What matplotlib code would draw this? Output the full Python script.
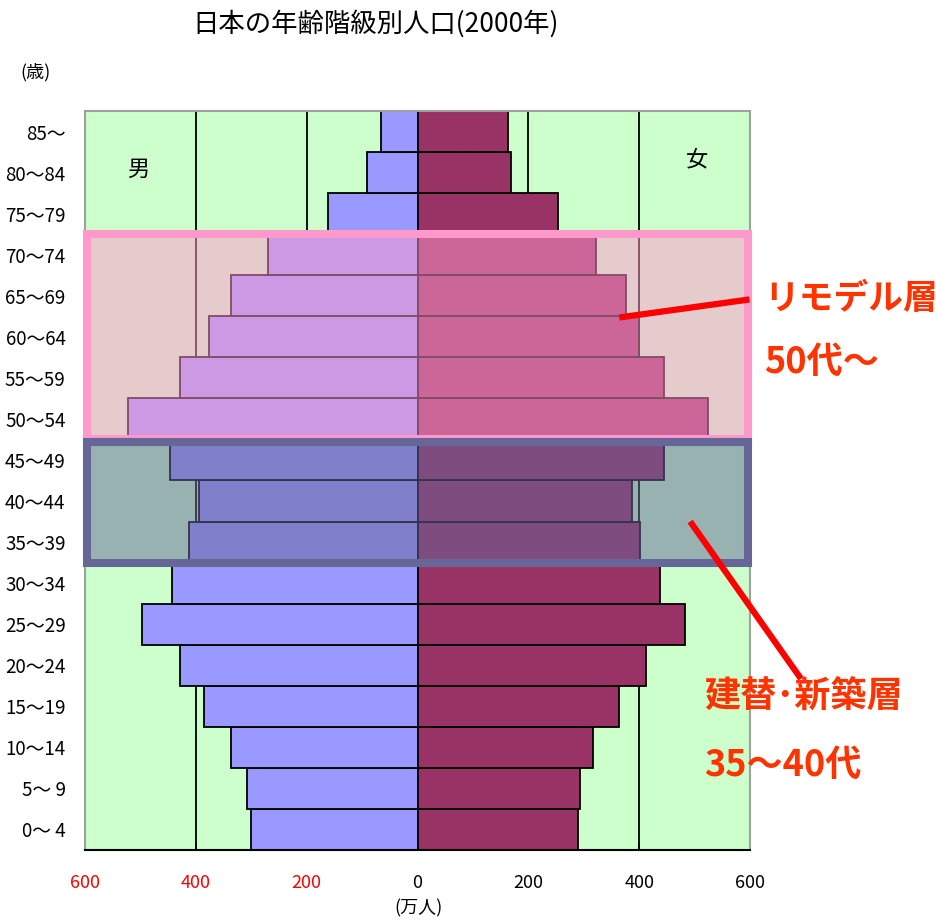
import numpy as np
import matplotlib
matplotlib.use('Agg')
import matplotlib.pyplot as plt
from matplotlib.patches import Rectangle

plt.rcParams['font.family'] = ['Noto Sans CJK JP', 'DejaVu Sans']

# 年齢階級 (下から上へ)
ages = ["0〜 4", "5〜 9", "10〜14", "15〜19", "20〜24", "25〜29", "30〜34",
        "35〜39", "40〜44", "45〜49", "50〜54", "55〜59", "60〜64", "65〜69",
        "70〜74", "75〜79", "80〜84", "85〜"]
# 人口 (万人)
male = [301, 307, 336, 385, 429, 498, 443, 412, 395, 446, 522, 429, 376, 336, 270, 162, 92, 65]
female = [289, 294, 317, 364, 413, 483, 437, 401, 387, 445, 524, 445, 399, 376, 323, 253, 169, 164]
xticks = [-600, -400, -200, 0, 200, 400, 600]
xtick_labels = ["600", "400", "200", "0", "200", "400", "600"]
xtick_colors = ["red", "red", "red", "black", "black", "black", "black"]

W, H = 936, 921
fig = plt.figure(figsize=(W / 100, H / 100), dpi=100)
ax = fig.add_axes([85 / W, 1 - 850 / H, 665 / W, 739 / H])
ax.set_facecolor('#CCFFCC')

y = np.arange(len(ages))
ax.barh(y, -np.array(male), height=1.0, color='#9999FF', edgecolor='black', linewidth=1.3, zorder=2)
ax.barh(y, female, height=1.0, color='#993366', edgecolor='black', linewidth=1.3, zorder=2)

for v in [-400, -200, 200, 400]:
    ax.axvline(v, color='black', lw=1.3, zorder=1)

ax.set_xlim(-600, 600)
ax.set_ylim(-0.5, len(ages) - 0.5)

ax.set_xticks(xticks)
ax.set_xticklabels(xtick_labels, fontsize=13)
for lab, c in zip(ax.get_xticklabels(), xtick_colors):
    lab.set_color(c)
ax.tick_params(axis='x', direction='in', length=5, width=1.2, pad=17)
ax.set_yticks(y)
ax.set_yticklabels(ages, fontsize=13.5)
ax.tick_params(axis='y', length=0, pad=14)

for s in ['top', 'left', 'right']:
    ax.spines[s].set_color('#A0A0A0')
    ax.spines[s].set_linewidth(1.5)
ax.spines['bottom'].set_color('black')
ax.spines['bottom'].set_linewidth(1.5)

ax.text(-504, 16.08, "男", fontsize=16, ha='center', va='center')
ax.text(504, 16.32, "女", fontsize=16, ha='center', va='center')

# 強調枠
ax.add_patch(Rectangle((-597, 9.52), 1194, 4.98, facecolor=(1.0, 0.6, 0.8, 0.5),
                       edgecolor='#FF99CC', lw=5.8, zorder=5, clip_on=False))
ax.add_patch(Rectangle((-597, 6.5), 1194, 2.94, facecolor=(0.4, 0.4, 0.6, 0.5),
                       edgecolor='#666699', lw=5.8, zorder=6, clip_on=False))

# 引き出し線
ax.plot([364, 599], [12.47, 12.91], color='red', lw=4.5, zorder=7, clip_on=False,
        solid_capstyle='butt')
ax.plot([492, 692], [7.5, 3.67], color='red', lw=4.5, zorder=7, clip_on=False,
        solid_capstyle='butt')

red = '#FF3300'
fig.text(764 / W, 1 - 298 / H, "リモデル層", fontsize=25, color=red, weight='bold', va='center')
fig.text(764 / W, 1 - 362 / H, "50代〜", fontsize=26, color=red, weight='bold', va='center')
fig.text(704 / W, 1 - 697 / H, "建替･新築層", fontsize=26, color=red, weight='bold', va='center')
fig.text(704 / W, 1 - 765 / H, "35〜40代", fontsize=26, color=red, weight='bold', va='center')

fig.text(376 / W, 1 - 24 / H, "日本の年齢階級別人口(2000年)", fontsize=19, ha='center', va='center')
fig.text(35 / W, 1 - 72 / H, "(歳)", fontsize=13, ha='center', va='center')
fig.text(418 / W, 1 - 908 / H, "(万人)", fontsize=13, ha='center', va='center')

fig.savefig('out.png', dpi=100)
